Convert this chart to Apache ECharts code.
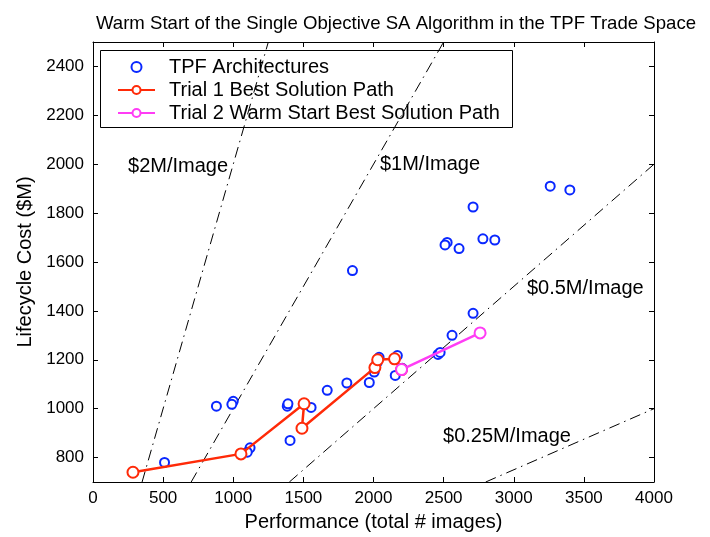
<!DOCTYPE html>
<html>
<head>
<meta charset="utf-8">
<script src="https://cdn.jsdelivr.net/npm/echarts@6/dist/echarts.min.js"></script>
<style>
  html, body { margin: 0; padding: 0; background: #fff; }
  #chart { width: 710px; height: 537px; }
</style>
</head>
<body>
<div id="chart"></div>
<script>
// TPF trade space: performance (total # images) vs lifecycle cost ($M)
const tpfArchitectures = [
  [510, 780], [880, 1010], [1000, 1030], [990, 1018], [1120, 840], [1100, 822],
  [1385, 1010], [1390, 1020], [1555, 1005], [1405, 870], [1670, 1075],
  [1810, 1105], [1970, 1107], [2040, 1210], [2025, 1188], [2005, 1150],
  [2170, 1217], [2155, 1136], [2205, 1165], [2460, 1222], [2475, 1230],
  [2560, 1300], [2710, 1390], [1850, 1565], [2710, 1825], [2525, 1680],
  [2510, 1670], [2610, 1655], [2780, 1695], [2865, 1690], [3260, 1910],
  [3400, 1895]
];

// best solution path of the first SA trial
const trial1Path = [
  [285, 740], [1055, 815], [1505, 1020], [1490, 920], [2010, 1168],
  [2030, 1200], [2150, 1204], [2200, 1160]
];

// warm-started second trial, continuing from the end of trial 1
const trial2Path = [[2200, 1160], [2760, 1310]];

// cost-per-image reference rates ($M per image)
const costRates = [2, 1, 0.5, 0.25];
const rateNames = ['$2M/Image', '$1M/Image', '$0.5M/Image', '$0.25M/Image'];

const xTicks = [0, 500, 1000, 1500, 2000, 2500, 3000, 3500, 4000];
const yTicks = [800, 1000, 1200, 1400, 1600, 1800, 2000, 2200, 2400];

const X_MIN = 0, X_MAX = 4000, Y_MIN = 700, Y_MAX = 2500;

// anchors (data coords) for the rate annotations
const rateLabelAnchors = [[250, 1990], [2046, 2000], [3094, 1491], [2496, 886]];

const FONT = 'Liberation Sans, Arial, sans-serif';

// clip each constant-rate line (cost = rate * images) to the plot box
const rateLines = costRates.map(function (r) {
  const x0 = Math.max(X_MIN, Y_MIN / r);
  const x1 = Math.min(X_MAX, Y_MAX / r);
  return [[x0, r * x0], [x1, r * x1]];
});

const chart = echarts.init(document.getElementById('chart'), null, { renderer: 'canvas' });

const blue = '#0a28ff';
const red = '#ff2a08';
const magenta = '#ff3cf5';

const series = [];

rateLines.forEach(function (pts, i) {
  series.push({
    name: rateNames[i],
    type: 'line',
    data: pts,
    symbol: 'none',
    silent: true,
    animation: false,
    z: 1,
    lineStyle: { color: '#000', width: 1, type: [11, 5, 1.5, 5] }
  });
});

series.push({
  name: 'rateLabels',
  type: 'scatter',
  symbolSize: 0,
  silent: true,
  animation: false,
  itemStyle: { opacity: 1 },
  data: rateLabelAnchors.map(function (p, i) { return { value: p, name: rateNames[i] }; }),
  label: {
    show: true, position: 'right', distance: 0,
    formatter: '{b}', color: '#000', opacity: 1, fontSize: 20, fontFamily: FONT
  }
});

series.push({
  name: 'TPF Architectures',
  type: 'scatter',
  data: tpfArchitectures,
  symbol: 'emptyCircle',
  symbolSize: 9,
  animation: false,
  z: 3,
  itemStyle: { color: blue, borderColor: blue, borderWidth: 2.6, opacity: 1 }
});

series.push({
  name: 'Trial 1 Best Solution Path',
  type: 'line',
  data: trial1Path,
  symbol: 'emptyCircle',
  symbolSize: 11,
  animation: false,
  z: 4,
  lineStyle: { color: red, width: 2.5 },
  itemStyle: { color: red, borderColor: red, borderWidth: 2.2, opacity: 1 }
});

series.push({
  name: 'Trial 2 Warm Start Best Solution Path',
  type: 'line',
  data: trial2Path,
  symbol: 'emptyCircle',
  symbolSize: 11,
  animation: false,
  z: 5,
  lineStyle: { color: magenta, width: 2.5 },
  itemStyle: { color: magenta, borderColor: magenta, borderWidth: 2.2, opacity: 1 }
});

const axisCommon = {
  axisLine: { show: true, onZero: false, lineStyle: { color: '#000', width: 1 } },
  axisTick: { show: true, inside: true, length: 5, lineStyle: { color: '#000' } },
  splitLine: { show: false }
};

function plainNumber(v) { return String(v); }

const option = {
  backgroundColor: '#fff',
  animation: false,
  title: {
    text: 'Warm Start of the Single Objective SA Algorithm in the TPF Trade Space',
    left: 391, top: 9, textAlign: 'center',
    textStyle: { fontFamily: FONT, fontSize: 18.6, fontWeight: 'normal', color: '#000' }
  },
  grid: { left: 93, right: 56, top: 42, bottom: 55, containLabel: false },
  legend: {
    data: [
      { name: 'TPF Architectures', icon: 'emptyCircle', itemStyle: { borderWidth: 2.6, opacity: 1 } },
      'Trial 1 Best Solution Path',
      'Trial 2 Warm Start Best Solution Path'
    ],
    orient: 'vertical',
    left: 112, top: 52,
    itemWidth: 37, itemHeight: 10, itemGap: 3,
    selectedMode: false,
    textStyle: { fontFamily: FONT, fontSize: 20, color: '#000', lineHeight: 20, padding: [0, 0, 0, 9] }
  },
  graphic: [{
    type: 'rect', z: 10, silent: true,
    shape: { x: 100.5, y: 50.5, width: 412, height: 77 },
    style: { fill: 'none', stroke: '#000', lineWidth: 1 }
  }],
  xAxis: [
    Object.assign({}, axisCommon, {
      type: 'value', position: 'bottom', min: X_MIN, max: X_MAX, interval: 500,
      name: 'Performance (total # images)', nameLocation: 'middle', nameGap: 30,
      nameTextStyle: { fontFamily: FONT, fontSize: 20, color: '#000' },
      axisLabel: { show: true, margin: 8, fontFamily: FONT, fontSize: 17, color: '#000',
        customValues: xTicks, formatter: plainNumber },
      axisTick: Object.assign({}, axisCommon.axisTick, { customValues: xTicks })
    }),
    Object.assign({}, axisCommon, {
      type: 'value', position: 'top', min: X_MIN, max: X_MAX, interval: 500,
      axisLabel: { show: false }
    })
  ],
  yAxis: [
    Object.assign({}, axisCommon, {
      type: 'value', position: 'left', min: Y_MIN, max: Y_MAX, interval: 100,
      name: 'Lifecycle Cost ($M)', nameLocation: 'middle', nameGap: 52,
      nameTextStyle: { fontFamily: FONT, fontSize: 20, color: '#000' },
      axisLabel: { show: true, margin: 9, fontFamily: FONT, fontSize: 17, color: '#000',
        customValues: yTicks, formatter: plainNumber },
      axisTick: Object.assign({}, axisCommon.axisTick, { customValues: yTicks })
    }),
    Object.assign({}, axisCommon, {
      type: 'value', position: 'right', min: Y_MIN, max: Y_MAX, interval: 100,
      axisLabel: { show: false },
      axisTick: Object.assign({}, axisCommon.axisTick, { customValues: yTicks })
    })
  ],
  series: series
};

chart.setOption(option);
</script>
</body>
</html>
